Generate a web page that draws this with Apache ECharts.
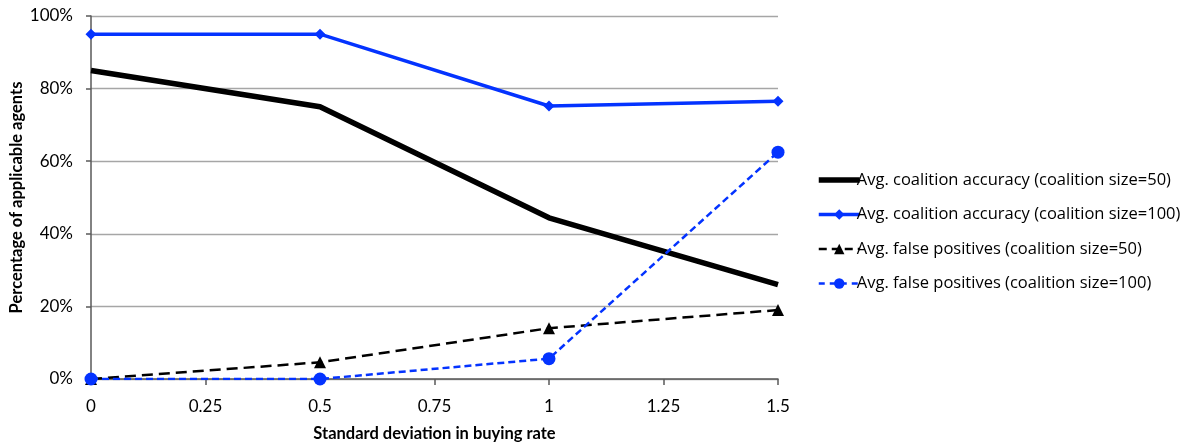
<!DOCTYPE html>
<html>
<head>
<meta charset="utf-8">
<script src="https://cdn.jsdelivr.net/npm/echarts@6/dist/echarts.min.js"></script>
<style>
  html, body { margin: 0; padding: 0; background: #fff; }
  #chart { width: 1197px; height: 444px; }
</style>
</head>
<body>
<div id="chart"></div>
<script>
// Standard deviation in buying rate (x positions)
const stdDev = [0, 0.5, 1, 1.5];

// Percentages of applicable agents
const accuracy50 = [85, 75, 44.4, 26];
const accuracy100 = [95, 95, 75.2, 76.5];
const falsePos50 = [0, 4.6, 14, 19];
const falsePos100 = [0, 0, 5.6, 62.5];

const seriesNames = [
  'Avg. coalition accuracy (coalition size=50)',
  'Avg. coalition accuracy (coalition size=100)',
  'Avg. false positives (coalition size=50)',
  'Avg. false positives (coalition size=100)'
];

const BLUE = '#0433ff';
const FONT = 'Lato, "Open Sans", "Liberation Sans", sans-serif';
const LEGEND_FONT = '"Open Sans", Lato, sans-serif';

const pairs = arr => stdDev.map((x, i) => [x, arr[i]]);

const chart = echarts.init(document.getElementById('chart'));
chart.setOption({
  animation: false,
  textStyle: { fontFamily: FONT },
  grid: { left: 91, right: 419, top: 16, bottom: 65, outerBoundsMode: 'none', containLabel: false },
  legend: {
    orient: 'vertical',
    left: 811,
    top: 165,
    itemGap: 14.5,
    itemWidth: 41,
    itemHeight: 13,
    textStyle: { fontSize: 16.5, lineHeight: 20, color: '#000', fontFamily: LEGEND_FONT, padding: [0, 0, 0, -8] },
    data: [
      { name: seriesNames[0], itemStyle: { opacity: 0 }, lineStyle: { width: 5.5, color: '#000' } },
      { name: seriesNames[1], lineStyle: { width: 3.5, color: BLUE } },
      { name: seriesNames[2], lineStyle: { width: 2.5, color: '#000', type: [8, 5] } },
      { name: seriesNames[3], lineStyle: { width: 2.5, color: BLUE, type: [6, 5] } }
    ]
  },
  xAxis: {
    type: 'value',
    min: 0,
    max: 1.5,
    interval: 0.25,
    name: 'Standard deviation in buying rate',
    nameLocation: 'middle',
    nameGap: 46,
    nameTextStyle: { fontSize: 16.5, fontWeight: 'bold', color: '#000' },
    axisLine: { show: true, lineStyle: { color: '#595959', width: 1.5 } },
    axisTick: { show: true, length: 6, lineStyle: { color: '#595959', width: 1.5 } },
    axisLabel: { fontSize: 17, color: '#000', margin: 19 },
    splitLine: { show: false }
  },
  yAxis: {
    type: 'value',
    min: 0,
    max: 100,
    interval: 20,
    name: 'Percentage of applicable agents',
    nameLocation: 'middle',
    nameGap: 66,
    nameMoveOverlap: false,
    nameTextStyle: { fontSize: 16.5, fontWeight: 'bold', color: '#000' },
    axisLine: { show: true, lineStyle: { color: '#595959', width: 1.5 } },
    axisTick: { show: true, length: 5, lineStyle: { color: '#595959', width: 1.5 } },
    axisLabel: { fontSize: 17, color: '#000', margin: 18, formatter: '{value}%' },
    splitLine: { show: true, lineStyle: { color: '#a6a6a6', width: 1.3 } }
  },
  series: [
    {
      name: seriesNames[0],
      type: 'line',
      data: pairs(accuracy50),
      symbol: 'none',
      lineStyle: { color: '#000', width: 5.5 },
      itemStyle: { color: '#000' },
      z: 3
    },
    {
      name: seriesNames[1],
      type: 'line',
      data: pairs(accuracy100),
      symbol: 'diamond',
      symbolSize: 11,
      lineStyle: { color: BLUE, width: 3.5 },
      itemStyle: { color: BLUE },
      z: 4
    },
    {
      name: seriesNames[2],
      type: 'line',
      data: pairs(falsePos50),
      symbol: 'triangle',
      symbolSize: 12,
      lineStyle: { color: '#000', width: 2.5, type: [11, 6] },
      itemStyle: { color: '#000' },
      z: 5
    },
    {
      name: seriesNames[3],
      type: 'line',
      data: pairs(falsePos100),
      symbol: 'circle',
      symbolSize: 13,
      lineStyle: { color: BLUE, width: 2.5, type: [7, 4] },
      itemStyle: { color: BLUE },
      z: 6
    }
  ]
});
</script>
</body>
</html>
